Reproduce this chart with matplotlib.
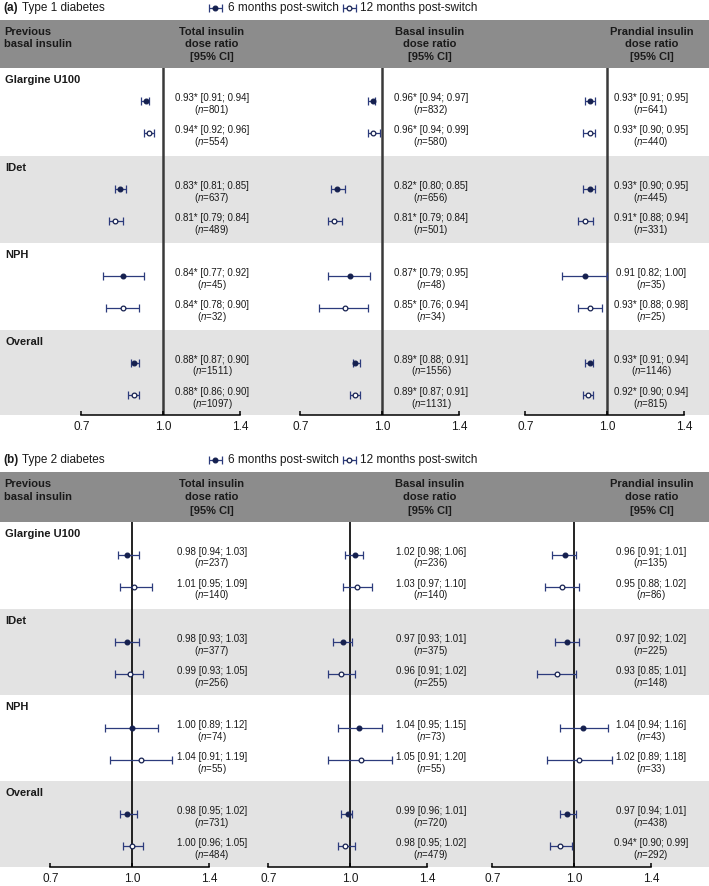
import matplotlib
matplotlib.use('Agg')
import matplotlib.pyplot as plt
from matplotlib.patches import Rectangle
import numpy as np

plt.rcParams['font.family'] = ['Liberation Sans', 'DejaVu Sans']
plt.rcParams['mathtext.fontset'] = 'custom'
plt.rcParams['mathtext.it'] = 'Liberation Sans:italic'
plt.rcParams['mathtext.rm'] = 'Liberation Sans'

# ---------------- data ----------------
groups = ['Glargine U100', 'IDet', 'NPH', 'Overall']
column_headers = [['Total insulin', 'dose ratio', '[95% CI]'],
                  ['Basal insulin', 'dose ratio', '[95% CI]'],
                  ['Prandial insulin', 'dose ratio', '[95% CI]']]
row_header = ['Previous', 'basal insulin']
timepoints = ['6 months post-switch', '12 months post-switch']
panel_titles = [('(a)', 'Type 1 diabetes'), ('(b)', 'Type 2 diabetes')]
tick_values = [0.7, 1.0, 1.4]
tick_labels = ['0.7', '1.0', '1.4']

# order in each list: Glargine 6m, 12m, IDet 6m, 12m, NPH 6m, 12m, Overall 6m, 12m
# columns: total, basal, prandial
t1_est = [[0.93, 0.94, 0.83, 0.81, 0.84, 0.84, 0.88, 0.88],
          [0.96, 0.96, 0.82, 0.81, 0.87, 0.85, 0.89, 0.89],
          [0.93, 0.93, 0.93, 0.91, 0.91, 0.93, 0.93, 0.92]]
t1_lo = [[0.91, 0.92, 0.81, 0.79, 0.77, 0.78, 0.87, 0.86],
         [0.94, 0.94, 0.80, 0.79, 0.79, 0.76, 0.88, 0.87],
         [0.91, 0.90, 0.90, 0.88, 0.82, 0.88, 0.91, 0.90]]
t1_hi = [[0.94, 0.96, 0.85, 0.84, 0.92, 0.90, 0.90, 0.90],
         [0.97, 0.99, 0.85, 0.84, 0.95, 0.94, 0.91, 0.91],
         [0.95, 0.95, 0.95, 0.94, 1.00, 0.98, 0.94, 0.94]]
t1_n = [[801, 554, 637, 489, 45, 32, 1511, 1097],
        [832, 580, 656, 501, 48, 34, 1556, 1131],
        [641, 440, 445, 331, 35, 25, 1146, 815]]
t1_sig = [[1, 1, 1, 1, 1, 1, 1, 1],
          [1, 1, 1, 1, 1, 1, 1, 1],
          [1, 1, 1, 1, 0, 1, 1, 1]]

t2_est = [[0.98, 1.01, 0.98, 0.99, 1.00, 1.04, 0.98, 1.00],
          [1.02, 1.03, 0.97, 0.96, 1.04, 1.05, 0.99, 0.98],
          [0.96, 0.95, 0.97, 0.93, 1.04, 1.02, 0.97, 0.94]]
t2_lo = [[0.94, 0.95, 0.93, 0.93, 0.89, 0.91, 0.95, 0.96],
         [0.98, 0.97, 0.93, 0.91, 0.95, 0.91, 0.96, 0.95],
         [0.91, 0.88, 0.92, 0.85, 0.94, 0.89, 0.94, 0.90]]
t2_hi = [[1.03, 1.09, 1.03, 1.05, 1.12, 1.19, 1.02, 1.05],
         [1.06, 1.10, 1.01, 1.02, 1.15, 1.20, 1.01, 1.02],
         [1.01, 1.02, 1.02, 1.01, 1.16, 1.18, 1.01, 0.99]]
t2_n = [[237, 140, 377, 256, 74, 55, 731, 484],
        [236, 140, 375, 255, 73, 55, 720, 479],
        [135, 86, 225, 148, 43, 33, 438, 292]]
t2_sig = [[0, 0, 0, 0, 0, 0, 0, 0],
          [0, 0, 0, 0, 0, 0, 0, 0],
          [0, 0, 0, 0, 0, 0, 0, 1]]

# ---------------- layout (pixels) ----------------
W, H, DPI = 709, 886, 100
panels = [
    dict(est=t1_est, lo=t1_lo, hi=t1_hi, n=t1_n, sig=t1_sig,
         title_y=8, head_top=19.5, head_bot=68, tops=[68, 156, 243, 330], axis_y=415,
         ref_x=[163, 382, 607], ref_lw=1.8, ref_col='#3a3a3a', head_off=[12.5, 24.5, 37.5]),
    dict(est=t2_est, lo=t2_lo, hi=t2_hi, n=t2_n, sig=t2_sig,
         title_y=460, head_top=472, head_bot=522, tops=[522, 609, 695, 781], axis_y=867,
         ref_x=[132, 350, 574], ref_lw=1.3, ref_col='#111111', head_off=[11.5, 25, 38.5]),
]
text_cx = [212, 431, 651]
head_cx = [212, 430, 652]
PX_PER_LOG = 229.0

navy = '#15204f'
bar_col = '#2c3b7c'
hdr_col = '#8c8c8c'
band_col = '#e3e3e3'
txt_col = '#1a1a1a'

fig = plt.figure(figsize=(W / DPI, H / DPI), dpi=DPI)
bg = fig.add_axes([0, 0, 1, 1])
bg.set_xlim(0, W)
bg.set_ylim(H, 0)
bg.axis('off')

for pi, p in enumerate(panels):
    # title + legend
    bg.text(3, p['title_y'], panel_titles[pi][0], fontsize=8.5, fontweight='bold',
            va='center', ha='left', color=txt_col)
    bg.text(22, p['title_y'], panel_titles[pi][1], fontsize=8.5,
            va='center', ha='left', color=txt_col)
    for k, (lx, tx) in enumerate([(215, 228), (349, 360)]):
        bg.errorbar([lx], [p['title_y']], xerr=[[6.5], [6.5]], fmt='o', ms=3.4,
                    mfc=navy if k == 0 else 'white', mec=navy, mew=0.9,
                    ecolor=bar_col, elinewidth=0.9, capsize=3.2, capthick=0.9)
        bg.text(tx, p['title_y'], timepoints[k], fontsize=8.5, va='center', ha='left', color=txt_col)

    # header band
    bg.add_patch(Rectangle((0, p['head_top']), W, p['head_bot'] - p['head_top'],
                           facecolor=hdr_col, edgecolor='none'))
    for li, line in enumerate(row_header):
        bg.text(4, p['head_top'] + p['head_off'][li], line, fontsize=8, fontweight='bold',
                va='center', ha='left', color=txt_col)
    for c in range(3):
        for li, line in enumerate(column_headers[c]):
            bg.text(head_cx[c], p['head_top'] + p['head_off'][li], line, fontsize=8,
                    fontweight='bold', va='center', ha='center', color=txt_col)

    # group bands & labels
    bounds = p['tops'] + [p['axis_y']]
    for g in range(4):
        if g % 2 == 1:
            bg.add_patch(Rectangle((0, bounds[g]), W, bounds[g + 1] - bounds[g],
                                   facecolor=band_col, edgecolor='none'))
        bg.text(5, bounds[g] + 12, groups[g], fontsize=8, fontweight='bold',
                va='center', ha='left', color=txt_col)

    row_y = []
    for g in range(4):
        row_y += [bounds[g] + 33, bounds[g] + 65]

    # forest axes
    for c in range(3):
        x1 = p['ref_x'][c]
        xl = x1 - PX_PER_LOG * np.log(1 / 0.7)
        xr = x1 + PX_PER_LOG * np.log(1.4)
        ax = fig.add_axes([xl / W, (H - p['axis_y']) / H, (xr - xl) / W,
                           (p['axis_y'] - p['head_bot']) / H])
        ax.set_xscale('log')
        ax.set_xlim(0.7, 1.4)
        ax.set_ylim(p['axis_y'], p['head_bot'])
        ax.patch.set_alpha(0)
        for s in ['top', 'left', 'right']:
            ax.spines[s].set_visible(False)
        ax.spines['bottom'].set_linewidth(1.1)
        ax.set_yticks([])
        ax.set_xticks(tick_values)
        ax.set_xticklabels(tick_labels)
        ax.minorticks_off()
        ax.tick_params(axis='x', direction='in', length=3, width=1.1, labelsize=8.5, pad=4,
                       labelcolor=txt_col)
        ax.axvline(1.0, color=p['ref_col'], lw=p['ref_lw'], zorder=1)
        est = np.array(p['est'][c])
        lo = np.array(p['lo'][c])
        hi = np.array(p['hi'][c])
        for i in range(8):
            filled = (i % 2 == 0)
            ax.errorbar([est[i]], [row_y[i]], xerr=[[est[i] - lo[i]], [hi[i] - est[i]]],
                        fmt='o', ms=3.4, mfc=navy if filled else 'white', mec=navy, mew=0.9,
                        ecolor=bar_col, elinewidth=0.9, capsize=3.2, capthick=0.9,
                        clip_on=False, zorder=3)
            star = '*' if p['sig'][c][i] else ''
            bg.text(text_cx[c], row_y[i] - 3, f"{est[i]:.2f}{star} [{lo[i]:.2f}; {hi[i]:.2f}]",
                    fontsize=7, va='center', ha='center', color=txt_col)
            bg.text(text_cx[c], row_y[i] + 8.5, f"($\\mathit{{n}}$={p['n'][c][i]})",
                    fontsize=7, va='center', ha='center', color=txt_col)

fig.savefig('out.png', dpi=DPI)
